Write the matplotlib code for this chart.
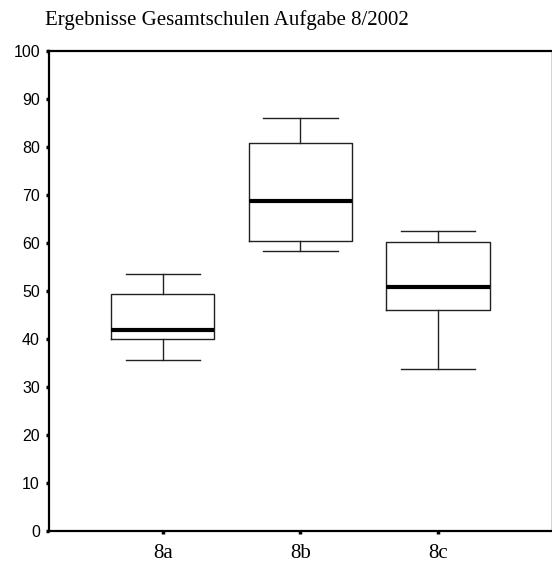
import matplotlib
matplotlib.use("Agg")
from matplotlib import pyplot as plt

groups = ["8a", "8b", "8c"]
whisker_low = [35.7, 58.4, 33.8]
q1 = [39.9, 60.4, 46.1]
medians = [41.9, 68.8, 50.8]
q3 = [49.4, 80.9, 60.3]
whisker_high = [53.5, 86.1, 62.4]
yticks = [0, 10, 20, 30, 40, 50, 60, 70, 80, 90, 100]

stats = []
for i in range(len(groups)):
    stats.append({"label": groups[i], "whislo": whisker_low[i], "q1": q1[i],
                  "med": medians[i], "q3": q3[i], "whishi": whisker_high[i]})

fig = plt.figure(figsize=(5.52, 5.68), dpi=100)
ax = fig.add_axes([49/552, 1-531/568, 502/552, 480/568])

ax.bxp(stats, positions=[1, 2, 3], widths=0.75, showfliers=False,
       boxprops=dict(color="#222222", linewidth=1.0),
       whiskerprops=dict(color="#222222", linewidth=1.0),
       capprops=dict(color="#222222", linewidth=1.0),
       medianprops=dict(color="black", linewidth=3.0, solid_capstyle="butt"),
       capwidths=0.54)

ax.set_xlim(0.174, 3.82)
ax.set_ylim(0, 100)
ax.set_yticks(yticks)
ax.set_yticklabels([str(v) for v in yticks], family="Liberation Sans", fontsize=11.5)
ax.set_xticks([1, 2, 3])
ax.set_xticklabels(groups, family="Liberation Serif", fontsize=15)
ax.tick_params(axis="both", direction="out", length=2.5, width=2.5)
ax.tick_params(axis="y", pad=4)
ax.tick_params(axis="x", pad=7)

for s in ax.spines.values():
    s.set_linewidth(1.6)
ax.spines["right"].set_linewidth(0.6)
ax.spines["right"].set_color("#cccccc")

fig.text(45/552, 1-20/568, "Ergebnisse Gesamtschulen Aufgabe 8/2002",
         family="Liberation Serif", fontsize=15, va="center", ha="left")

fig.savefig("out.png", dpi=100)
